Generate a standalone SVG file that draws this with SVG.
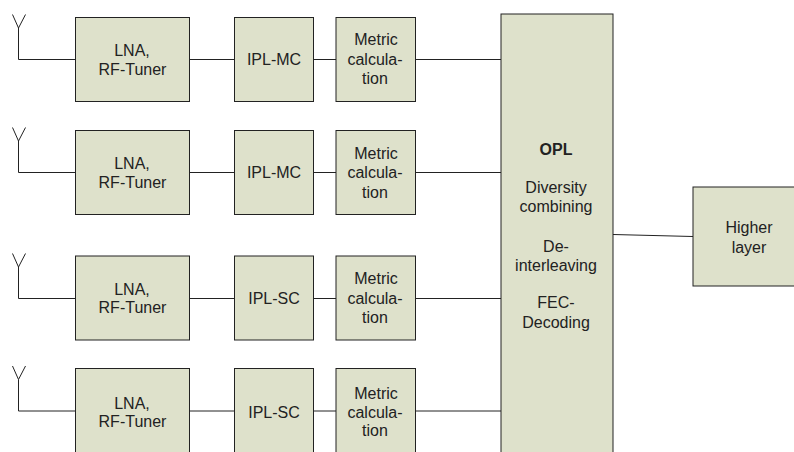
<svg xmlns="http://www.w3.org/2000/svg" width="794" height="452" viewBox="0 0 794 452">
<style>
.b{fill:#dee1cb;stroke:#222;stroke-width:1}
.c{fill:none;stroke:#222;stroke-width:1}
text{font-family:"Liberation Sans",Arial,sans-serif;font-size:16px;fill:#222;text-anchor:middle}
</style>
<defs>
<path id="ant" class="c" d="M18.500 59.500V28M12.500 14.500L18.500 28L25.500 14.500"/>
</defs>
<rect width="794" height="452" fill="#fff"/>
<g id="connectors">
<use href="#ant"/>
<path class="c" d="M18.500 59.500H75M189 59.500H234M314 59.500H336M415.500 59.500H501"/>
<use href="#ant" y="113"/>
<path class="c" d="M18.500 172.500H75M189 172.500H234M314 172.500H336M415.500 172.500H501"/>
<use href="#ant" y="239"/>
<path class="c" d="M18.500 298.500H75M189 298.500H234M314 298.500H336M415.500 298.500H501"/>
<use href="#ant" y="351.500"/>
<path class="c" d="M18.500 411H75M189 411H234M314 411H336M415.500 411H501"/>
<path class="c" d="M613 234.500L693 236.500"/>
</g>
<g id="lna1"><rect class="b" x="75.500" y="17.500" width="114" height="84"/><text x="132" y="55.600">LNA,</text><text x="132.500" y="74.600">RF-Tuner</text></g>
<g id="ipl1"><rect class="b" x="234.500" y="17.500" width="79" height="84"/><text x="274" y="64.600">IPL-MC</text></g>
<g id="metric1"><rect class="b" x="336" y="17.500" width="79.500" height="84"/><text x="376" y="44.600">Metric</text><text x="375" y="64.600">calcula-</text><text x="375" y="83.600">tion</text></g>
<g id="lna2"><rect class="b" x="75.500" y="130.500" width="114" height="84"/><text x="132" y="168.600">LNA,</text><text x="132.500" y="187.600">RF-Tuner</text></g>
<g id="ipl2"><rect class="b" x="234.500" y="130.500" width="79" height="84"/><text x="274" y="177.600">IPL-MC</text></g>
<g id="metric2"><rect class="b" x="336" y="130.500" width="79.500" height="84"/><text x="376" y="158.600">Metric</text><text x="375" y="177.600">calcula-</text><text x="375" y="197.600">tion</text></g>
<g id="lna3"><rect class="b" x="75.500" y="256" width="114" height="84"/><text x="132" y="294.600">LNA,</text><text x="132.500" y="312.600">RF-Tuner</text></g>
<g id="ipl3"><rect class="b" x="234.500" y="256" width="79" height="84"/><text x="274" y="303.600">IPL-SC</text></g>
<g id="metric3"><rect class="b" x="336" y="256" width="79.500" height="84"/><text x="376" y="283.600">Metric</text><text x="375" y="303.600">calcula-</text><text x="375" y="322.600">tion</text></g>
<g id="lna4"><rect class="b" x="75.500" y="368.500" width="114" height="90"/><text x="132" y="408.600">LNA,</text><text x="132.500" y="426.600">RF-Tuner</text></g>
<g id="ipl4"><rect class="b" x="234.500" y="368.500" width="79" height="90"/><text x="274" y="417.600">IPL-SC</text></g>
<g id="metric4"><rect class="b" x="336" y="368.500" width="79.500" height="90"/><text x="376" y="398.600">Metric</text><text x="375" y="417.600">calcula-</text><text x="375" y="435.600">tion</text></g>
<g id="opl"><rect class="b" x="501" y="14" width="112" height="445"/>
<text x="556" y="154.600" font-weight="bold">OPL</text><text x="556" y="192.600">Diversity</text><text x="556" y="211.600">combining</text><text x="556" y="251.600">De-</text><text x="556" y="270.600">interleaving</text><text x="556" y="307.600">FEC-</text><text x="556" y="327.600">Decoding</text></g>
<g id="higher"><rect class="b" x="693" y="187" width="113" height="99"/><text x="749" y="232.600">Higher</text><text x="749" y="252.600">layer</text></g>
</svg>
